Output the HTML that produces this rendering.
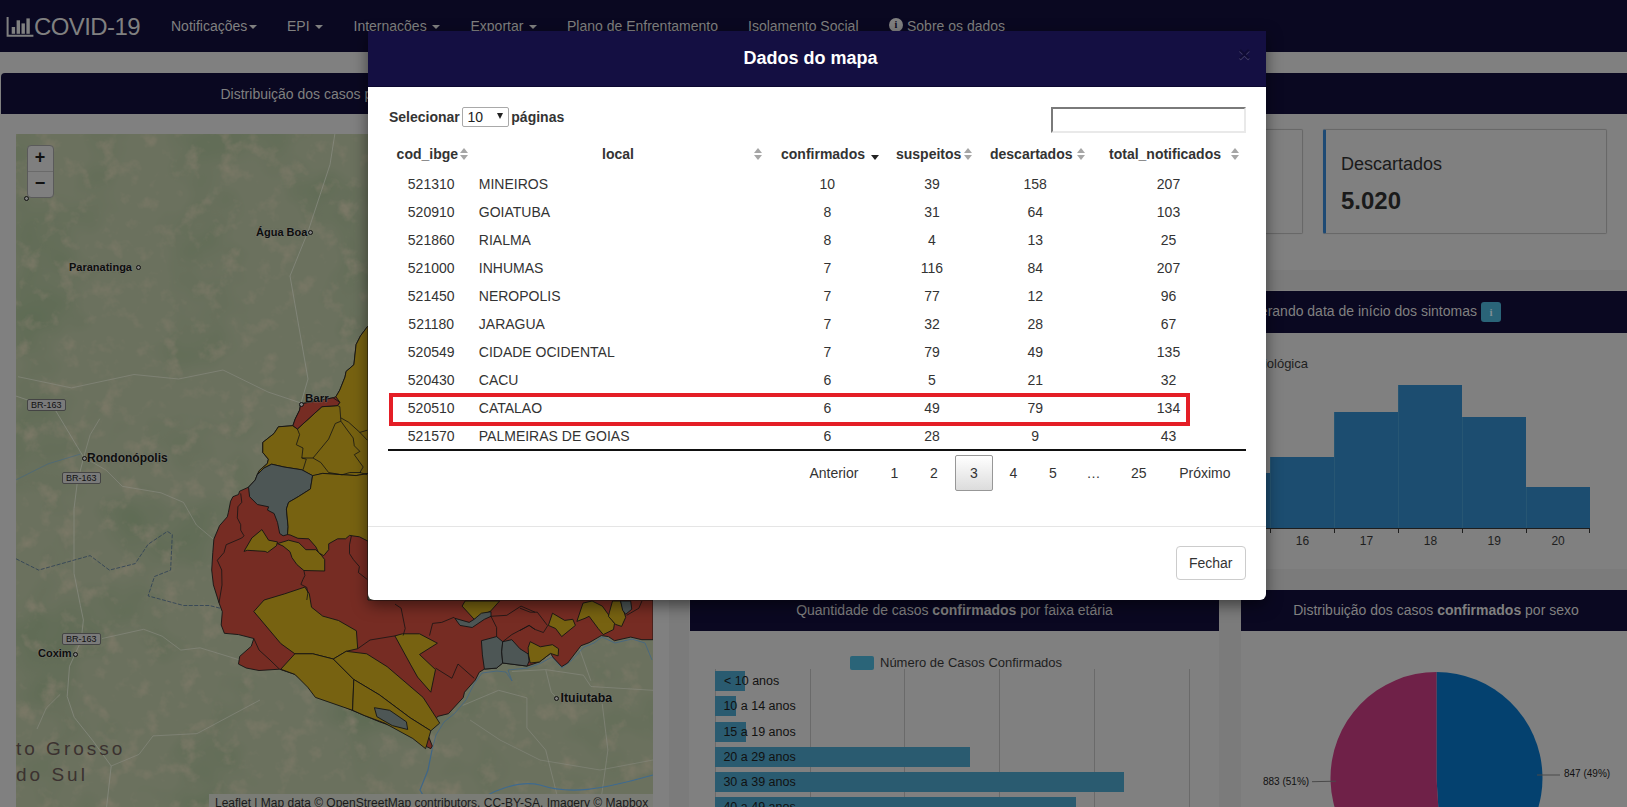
<!DOCTYPE html>
<html><head><meta charset="utf-8"><title>COVID-19</title>
<style>
*{margin:0;padding:0;box-sizing:border-box}
html,body{width:1627px;height:807px;overflow:hidden}
body{position:relative;background:#808080;font-family:"Liberation Sans", sans-serif}
.t{position:absolute;white-space:pre}
.r{position:absolute}
svg{position:absolute;left:0;top:0}
</style></head><body>

<div class="r" style="left:0px;top:0px;width:1627px;height:52px;background:#0a0821;"></div>
<svg width="40" height="40" style="left:0;top:0" viewBox="0 0 40 40">
<path d="M7.6 17 V35.8 H33.4" fill="none" stroke="#808080" stroke-width="2"/>
<rect x="11.7" y="27" width="3.4" height="6.8" fill="#808080"/>
<rect x="16.6" y="20.3" width="3.4" height="13.5" fill="#808080"/>
<rect x="21.5" y="23.4" width="3.4" height="10.4" fill="#808080"/>
<rect x="26.4" y="18.4" width="3.4" height="15.4" fill="#808080"/>
</svg>
<div class="t" style="left:34.0px;top:14.7px;font-size:24px;line-height:24px;font-weight:normal;color:#808080;letter-spacing:-0.6px">COVID-19</div>
<div class="t" style="left:171.0px;top:18.8px;font-size:14px;line-height:14px;font-weight:normal;color:#808080;">Notificações</div>
<div class="r" style="left:249px;top:25px;width:0;height:0;border-left:4px solid transparent;border-right:4px solid transparent;border-top:4px solid #808080"></div>
<div class="t" style="left:287.0px;top:18.8px;font-size:14px;line-height:14px;font-weight:normal;color:#808080;">EPI</div>
<div class="r" style="left:314.5px;top:25px;width:0;height:0;border-left:4px solid transparent;border-right:4px solid transparent;border-top:4px solid #808080"></div>
<div class="t" style="left:353.5px;top:18.8px;font-size:14px;line-height:14px;font-weight:normal;color:#808080;">Internações</div>
<div class="r" style="left:432px;top:25px;width:0;height:0;border-left:4px solid transparent;border-right:4px solid transparent;border-top:4px solid #808080"></div>
<div class="t" style="left:470.5px;top:18.8px;font-size:14px;line-height:14px;font-weight:normal;color:#808080;">Exportar</div>
<div class="r" style="left:529px;top:25px;width:0;height:0;border-left:4px solid transparent;border-right:4px solid transparent;border-top:4px solid #808080"></div>
<div class="t" style="left:567.0px;top:18.8px;font-size:14px;line-height:14px;font-weight:normal;color:#808080;">Plano de Enfrentamento</div>
<div class="t" style="left:748.0px;top:18.8px;font-size:14px;line-height:14px;font-weight:normal;color:#808080;">Isolamento Social</div>
<div class="r" style="left:889px;top:17.5px;width:14px;height:14px;border-radius:50%;background:#808080"></div>
<div class="t" style="left:889px;top:17.5px;width:14px;height:14px;line-height:14px;text-align:center;font-size:10px;font-weight:bold;color:#0a0821;font-family:'Liberation Serif',serif">i</div>
<div class="t" style="left:907.0px;top:18.8px;font-size:14px;line-height:14px;font-weight:normal;color:#808080;">Sobre os dados</div>
<div class="r" style="left:1px;top:73px;width:1626px;height:41px;background:#0a0821;border-radius:4px 0 0 0"></div>
<div class="t" style="left:220.5px;top:86.5px;font-size:14px;line-height:14px;font-weight:normal;color:#808080;">Distribuição dos casos por município segundo classificação do caso</div>
<div class="r" style="left:1266px;top:270px;width:361px;height:20px;background:#7b7b7b;"></div>
<div class="r" style="left:690px;top:291px;width:937px;height:42px;background:#0a0821;"></div>
<div class="r" style="left:690px;top:569px;width:937px;height:21px;background:#7b7b7b;"></div>
<div class="r" style="left:669px;top:134px;width:20px;height:673px;background:#7b7b7b;"></div>
<div class="r" style="left:690px;top:590px;width:529px;height:41px;background:#0a0821;"></div>
<div class="r" style="left:1219px;top:569px;width:22px;height:238px;background:#7b7b7b;"></div>
<div class="r" style="left:1241px;top:590px;width:386px;height:41px;background:#0a0821;"></div>
<div class="r" style="left:1040px;top:129px;width:263px;height:104.5px;border:1px solid #686868;border-left:3px solid #1e4a74;border-radius:2px;box-shadow:0 0 1px rgba(0,0,0,.15)"></div>
<div class="r" style="left:1323px;top:129px;width:284px;height:104.5px;border:1px solid #686868;border-left:3px solid #1e4a74;border-radius:2px;box-shadow:0 0 1px rgba(0,0,0,.15)"></div>
<div class="t" style="left:1341.0px;top:154.8px;font-size:18px;line-height:18px;font-weight:normal;color:#1a1a1a;">Descartados</div>
<div class="t" style="left:1341.0px;top:188.7px;font-size:24px;line-height:24px;font-weight:bold;color:#1a1a1a;">5.020</div>
<div class="t" style="left:677.0px;top:304.1px;width:800px;text-align:right;font-size:14px;line-height:14px;font-weight:normal;color:#808080;">Distribuição dos casos confirmados por semana epidemiológica considerando data de início dos sintomas</div>
<div class="r" style="left:1481px;top:302px;width:20px;height:20px;border-radius:3px;background:#2a6478"></div>
<div class="t" style="left:1481px;top:302px;width:20px;height:20px;line-height:21px;text-align:center;font-size:11px;font-weight:bold;color:#7f8f95;font-family:'Liberation Serif',serif">i</div>
<div class="t" style="left:1008.0px;top:357.0px;width:300px;text-align:right;font-size:13px;line-height:13px;font-weight:normal;color:#1e1e1e;">Semana epidemiológica</div>
<div class="r" style="left:1266px;top:473px;width:4px;height:55px;background:#1c4d70;"></div>
<div class="r" style="left:1270px;top:457px;width:64px;height:71px;background:#1c4d70;border-left:1px solid #275673"></div>
<div class="r" style="left:1334px;top:412px;width:64px;height:116px;background:#1c4d70;border-left:1px solid #275673"></div>
<div class="r" style="left:1398px;top:385px;width:64px;height:143px;background:#1c4d70;border-left:1px solid #275673"></div>
<div class="r" style="left:1462px;top:417px;width:64px;height:111px;background:#1c4d70;border-left:1px solid #275673"></div>
<div class="r" style="left:1526px;top:487px;width:64px;height:41px;background:#1c4d70;border-left:1px solid #275673"></div>
<div class="r" style="left:1266px;top:527.6px;width:324px;height:1.3px;background:#1e1e1e;"></div>
<div class="r" style="left:1270.0px;top:528px;width:1px;height:4.5px;background:#1e1e1e;"></div>
<div class="r" style="left:1333.9px;top:528px;width:1px;height:4.5px;background:#1e1e1e;"></div>
<div class="r" style="left:1398.0px;top:528px;width:1px;height:4.5px;background:#1e1e1e;"></div>
<div class="r" style="left:1461.8px;top:528px;width:1px;height:4.5px;background:#1e1e1e;"></div>
<div class="r" style="left:1525.9px;top:528px;width:1px;height:4.5px;background:#1e1e1e;"></div>
<div class="r" style="left:1589.2px;top:528px;width:1px;height:4.5px;background:#1e1e1e;"></div>
<div class="t" style="left:1282.5px;top:535.3px;width:40px;text-align:center;font-size:12px;line-height:12px;font-weight:normal;color:#1e1e1e;">16</div>
<div class="t" style="left:1346.5px;top:535.3px;width:40px;text-align:center;font-size:12px;line-height:12px;font-weight:normal;color:#1e1e1e;">17</div>
<div class="t" style="left:1410.4px;top:535.3px;width:40px;text-align:center;font-size:12px;line-height:12px;font-weight:normal;color:#1e1e1e;">18</div>
<div class="t" style="left:1474.3px;top:535.3px;width:40px;text-align:center;font-size:12px;line-height:12px;font-weight:normal;color:#1e1e1e;">19</div>
<div class="t" style="left:1538.1px;top:535.3px;width:40px;text-align:center;font-size:12px;line-height:12px;font-weight:normal;color:#1e1e1e;">20</div>
<div class="t" style="left:1266.0px;top:534.3px;font-size:12px;line-height:12px;font-weight:normal;color:#333;"></div>
<div class="t" style="left:690.0px;top:602.9px;width:529px;text-align:center;font-size:14px;line-height:14px;font-weight:normal;color:#808080;">Quantidade de casos <b>confirmados</b> por faixa etária</div>
<div class="r" style="left:849.7px;top:656px;width:24.8px;height:14px;background:#2a6478;border-radius:2px"></div>
<div class="t" style="left:880.0px;top:655.5px;font-size:13px;line-height:13px;font-weight:normal;color:#1e1e1e;">Número de Casos Confirmados</div>
<div class="r" style="left:810px;top:669px;width:1px;height:138px;background:#6a6a6a;"></div>
<div class="r" style="left:904px;top:669px;width:1px;height:138px;background:#6a6a6a;"></div>
<div class="r" style="left:998.5px;top:669px;width:1px;height:138px;background:#6a6a6a;"></div>
<div class="r" style="left:1093.5px;top:669px;width:1px;height:138px;background:#6a6a6a;"></div>
<div class="r" style="left:1188.5px;top:669px;width:1px;height:138px;background:#6a6a6a;"></div>
<div class="r" style="left:715px;top:669px;width:1px;height:138px;background:#6a6a6a;"></div>
<div class="r" style="left:715px;top:671px;width:29.899999999999977px;height:20px;background:#2a5b70;"></div>
<div class="t" style="left:724.0px;top:674.9px;font-size:12.5px;line-height:12.5px;font-weight:normal;color:#111;">&lt; 10 anos</div>
<div class="r" style="left:715px;top:696px;width:20.700000000000045px;height:20px;background:#2a5b70;"></div>
<div class="t" style="left:723.4px;top:699.9px;font-size:12.5px;line-height:12.5px;font-weight:normal;color:#111;">10 a 14 anos</div>
<div class="r" style="left:715px;top:721.8px;width:31px;height:20px;background:#2a5b70;"></div>
<div class="t" style="left:723.4px;top:725.7px;font-size:12.5px;line-height:12.5px;font-weight:normal;color:#111;">15 a 19 anos</div>
<div class="r" style="left:715px;top:746.6px;width:255px;height:20px;background:#2a5b70;"></div>
<div class="t" style="left:723.4px;top:750.5px;font-size:12.5px;line-height:12.5px;font-weight:normal;color:#111;">20 a 29 anos</div>
<div class="r" style="left:715px;top:772px;width:409px;height:20px;background:#2a5b70;"></div>
<div class="t" style="left:723.4px;top:775.9px;font-size:12.5px;line-height:12.5px;font-weight:normal;color:#111;">30 a 39 anos</div>
<div class="r" style="left:715px;top:797px;width:361px;height:20px;background:#2a5b70;"></div>
<div class="t" style="left:723.4px;top:800.9px;font-size:12.5px;line-height:12.5px;font-weight:normal;color:#111;">40 a 49 anos</div>
<div class="t" style="left:1241.0px;top:602.9px;width:390px;text-align:center;font-size:14px;line-height:14px;font-weight:normal;color:#808080;">Distribuição dos casos <b>confirmados</b> por sexo</div>
<svg width="1627" height="807" viewBox="0 0 1627 807">
<path d="M1436.5,778 L1436.50,672.00 A106,106 0 0 1 1443.16,883.79 Z" fill="#04416f"/>
<path d="M1436.5,778 L1443.16,883.79 A106,106 0 1 1 1436.50,672.00 Z" fill="#6f2148"/>
<line x1="1312" y1="781.7" x2="1336" y2="781.2" stroke="#4a4a4a" stroke-width="1"/>
<line x1="1537" y1="775" x2="1560" y2="775" stroke="#4a4a4a" stroke-width="1"/>
</svg>
<div class="t" style="left:1263.0px;top:776.8px;font-size:10px;line-height:10px;font-weight:normal;color:#111;">883 (51%)</div>
<div class="t" style="left:1564.0px;top:768.7px;font-size:10px;line-height:10px;font-weight:normal;color:#111;">847 (49%)</div>
<div class="r" style="left:16px;top:134px;width:637px;height:673px;background:#6b715e;overflow:hidden">
<svg width="637" height="673" viewBox="16 134 637 673" style="left:0;top:0">
<defs>
<filter id="tx" x="0" y="0" width="100%" height="100%" color-interpolation-filters="sRGB">
<feTurbulence type="fractalNoise" baseFrequency="0.05" numOctaves="4" seed="7" result="n"/>
<feComponentTransfer in="n" result="m"><feFuncA type="linear" slope="0" intercept="1"/></feComponentTransfer>
<feColorMatrix in="n" type="matrix" values="0 0 0 0 0.48  0 0 0 0 0.47  0 0 0 0 0.40  3.0 0 0 0 -1.62"/>
</filter>
<filter id="tx2" x="0" y="0" width="100%" height="100%" color-interpolation-filters="sRGB">
<feTurbulence type="fractalNoise" baseFrequency="0.012" numOctaves="3" seed="3"/>
<feColorMatrix type="matrix" values="0 0 0 0 0.37  0 0 0 0 0.42  0 0 0 0 0.33  0 2.6 0 0 -1.3"/>
</filter>
</defs>
<rect x="16" y="134" width="637" height="673" filter="url(#tx2)"/>
<rect x="16" y="134" width="637" height="673" filter="url(#tx)"/>
<polyline points="335,133 330,164.6 308,231.6 290,276 308,379 301,403" fill="none" stroke="#8a8c82" stroke-width="0.7"/>
<polyline points="18,376.7 71.4,387.9 134,374.5 178.6,379 223,370 268,392 301,403" fill="none" stroke="#8a8c82" stroke-width="0.6"/>
<polyline points="16,396.1 54.7,409 74,441.2 83.7,457.3 77.2,483.1 74,508.9 74,573.3 80.4,605.5 83.4,620 81.1,640.9 69.5,666.3 67.2,696.5 74.2,717.3 92.7,740.5 111.2,766 106.6,807" fill="none" stroke="#8a8c82" stroke-width="0.7"/>
<polyline points="83.7,457.3 106.2,470.2 122.3,486.3 161,492.8 183.5,502.4 196.4,525 215.7,541.1" fill="none" stroke="#8a8c82" stroke-width="0.6"/>
<polyline points="83.7,457.3 90.1,434.8 99.8,418.7" fill="none" stroke="#8a8c82" stroke-width="0.6"/>
<polyline points="16,479.9 48.2,463.8 80.4,454.1" fill="none" stroke="#3f6688" stroke-width="0.8" opacity="0.7"/>
<polyline points="16,558.8 38.6,570.1 90.1,555.6 109.4,570.1 135.2,563.6 148.1,544.3 167.4,531.4 172.3,534.6 170.6,570.1 154.5,576.5 148.1,595.9 183.5,605.5 209.3,605.5 222.2,608.7" fill="none" stroke="#2c3f55" stroke-width="0.8" stroke-dasharray="4 1.5"/>
<polyline points="102,638.5 143.7,629.3 162.2,636.2 180.8,650.1 200,647.8 240,660" fill="none" stroke="#8a8c82" stroke-width="0.6"/>
<polyline points="111.2,766 139,754.4 153,735.9 197,733.6 260,700" fill="none" stroke="#8a8c82" stroke-width="0.6"/>
<polyline points="37,729 46.3,708 60.3,694.2" fill="none" stroke="#8a8c82" stroke-width="0.6"/>
<polyline points="511.8,671.5 545.7,669.6 583.4,675.2 590.9,686.5 653,690.3" fill="none" stroke="#8a8c82" stroke-width="0.6"/>
<polyline points="545.7,669.6 551.3,692.2 555.1,696" fill="none" stroke="#8a8c82" stroke-width="0.6"/>
<polyline points="579.6,648.9 590.9,680.9" fill="none" stroke="#8a8c82" stroke-width="0.6"/>
<polyline points="462.8,705.4 498.6,690.3 526.9,697.8 526.9,728 545.7,750 560,807" fill="none" stroke="#8a8c82" stroke-width="0.6"/>
<polyline points="602.2,703.5 607.9,750 600,807" fill="none" stroke="#8a8c82" stroke-width="0.6"/>
<polyline points="470,720 500,740 540,760 600,770 653,760" fill="none" stroke="#8a8c82" stroke-width="0.5"/>
<polyline points="432,750 436,735 444,722 455,713 466,700 474,684 482,673 497,671 506,672 512,681 508,670 528,668 541,663 552,657 562,668 572,660 584,647 594,643 602,637 615,643 632,639 645,643 652,660" fill="none" stroke="#3f6688" stroke-width="1" opacity="0.75"/>
<polyline points="432,750 428,770 420,790 430,807" fill="none" stroke="#3f6688" stroke-width="1.2"/>
<path d="M470 807 C490 790 520 780 540 785 C570 795 600 790 653 775" fill="none" stroke="#3e6a90" stroke-width="1.1"/>
</svg>
</div>
<svg width="1627" height="807" viewBox="0 0 1627 807"><defs><clipPath id="mc"><rect x="16" y="134" width="637" height="673"/></clipPath></defs><g clip-path="url(#mc)"><polygon points="367.3,326.8 360.6,335.7 356.1,344.6 353.9,364.7 346.1,371.4 345.0,377.0 339.8,390.0 335.9,396.7 333.1,397.8 300.7,403.9 299.6,410.1 295.2,419.0 292.9,425.7 278.4,426.8 274.0,433.5 262.8,442.4 262.8,452.5 268.4,459.2 267.3,463.6 259.5,470.3 257.2,474.8 255.2,480.0 248.5,487.2 239.6,491.2 238.5,494.5 232.9,496.7 230.6,501.2 228.4,512.3 227.3,516.8 219.5,525.7 213.9,539.1 212.8,552.5 211.7,570.0 213.4,584.9 219.0,602.8 222.3,611.7 221.2,625.0 224.4,633.3 238.5,634.6 253.8,638.5 251.3,646.2 239.7,656.4 238.5,664.1 246.2,668.0 259.0,670.5 279.5,669.2 294.9,674.4 310.3,687.2 323.1,697.4 346.2,707.7 364.1,715.4 379.5,721.8 405.1,730.8 420.5,743.6 430.8,748.7 432.3,746.0 426.9,732.5 437.6,716.4 448.4,713.7 463.2,697.6 464.5,692.2 475.3,680.0 479.3,672.2 484.4,669.1 496.6,668.1 502.7,663.0 527.1,666.1 539.3,662.0 550.5,653.4 553.5,657.9 561.7,666.6 567.7,663.0 581.0,645.7 589.1,642.7 601.3,635.6 608.4,636.6 614.5,640.7 630.7,637.1 641.9,639.7 653.0,639.7 653.0,600.0 368.0,600.0" fill="#762c23" stroke="#141414" stroke-width="0.9" stroke-linejoin="round"/><polygon points="367.3,326.8 360.6,335.7 356.1,344.6 353.9,364.7 346.1,371.4 345.0,377.0 339.8,390.0 335.9,396.7 339.8,402.3 337.5,405.6 321.9,406.7 297.4,429.0 292.9,425.7 278.4,426.8 274.0,433.5 262.8,442.4 262.8,452.5 268.4,459.2 267.3,463.6 259.5,470.3 257.2,474.8 263.9,468.1 271.7,464.2 284.0,467.0 301.8,469.8 313.0,476.0 322.7,473.4 356.1,475.6 368.0,473.4 368.0,326.0" fill="#776211" stroke="#141414" stroke-width="0.9" stroke-linejoin="round"/><polygon points="300.7,403.9 333.1,397.8 339.8,402.3 337.5,405.6 321.9,406.7 297.4,429.0 292.9,425.7 295.2,419.0 299.6,410.1" fill="#762c23" stroke="#141414" stroke-width="0.9" stroke-linejoin="round"/><polygon points="255.2,480.0 257.2,474.8 263.9,468.1 271.7,464.2 284.0,467.0 301.8,469.8 312.6,475.6 310.4,489.0 298.1,496.8 288.6,502.3 286.4,509.0 288.1,526.8 287.5,534.6 283.1,535.8 279.7,533.5 277.5,522.4 274.1,513.5 267.5,510.1 268.6,506.8 257.4,504.5 249.6,496.7 248.5,487.2" fill="#4d5655" stroke="#141414" stroke-width="0.9" stroke-linejoin="round"/><polygon points="312.6,475.6 322.7,473.4 356.1,475.6 368.0,473.4 368.0,540.8 367.3,540.8 359.4,536.8 349.5,535.4 345.5,538.8 337.6,538.8 328.7,543.8 328.7,549.7 323.7,555.7 318.7,552.7 315.8,546.8 308.8,538.8 297.9,538.3 290.0,534.9 287.5,534.6 288.1,526.8 286.4,509.0 288.6,502.3 298.1,496.8 310.4,489.0" fill="#776211" stroke="#141414" stroke-width="0.9" stroke-linejoin="round"/><polygon points="244.0,551.4 251.8,538.0 261.9,529.6 268.6,540.2 277.5,541.9 276.4,545.8 267.5,552.5 265.2,551.4 247.4,550.3" fill="#776211" stroke="#141414" stroke-width="0.9" stroke-linejoin="round"/><polygon points="277.5,543.6 288.6,540.2 298.9,542.8 305.9,549.7 315.8,549.7 318.7,552.7 321.7,555.7 324.7,559.6 324.7,571.0 303.9,570.5 296.9,564.6 292.0,557.7 290.0,551.7 283.0,546.0" fill="#776211" stroke="#141414" stroke-width="0.9" stroke-linejoin="round"/><polygon points="253.8,611.5 264.1,600.0 284.8,593.8 304.8,587.1 309.3,593.8 311.5,607.2 322.7,616.1 338.5,620.5 356.4,630.8 357.7,648.7 346.2,651.3 333.3,659.0 312.8,653.8 294.9,653.8 280.8,643.6" fill="#776211" stroke="#141414" stroke-width="0.9" stroke-linejoin="round"/><polygon points="280.8,669.2 294.9,653.8 312.8,653.8 333.3,659.0 353.8,679.5 352.6,710.3 315.4,697.4 307.7,687.2 294.9,674.4" fill="#776211" stroke="#141414" stroke-width="0.9" stroke-linejoin="round"/><polygon points="333.3,659.0 346.2,651.3 366.7,653.8 387.2,666.7 423.1,697.4 439.7,723.1 430.8,730.8 410.3,717.9 379.5,694.9 353.8,679.5" fill="#776211" stroke="#141414" stroke-width="0.9" stroke-linejoin="round"/><polygon points="353.8,679.5 379.5,694.9 410.3,717.9 430.8,730.8 425.6,748.7 412.8,738.5 384.6,723.1 364.1,715.4 352.6,710.3" fill="#776211" stroke="#141414" stroke-width="0.9" stroke-linejoin="round"/><polygon points="528.1,647.8 530.2,641.7 540.3,646.8 552.5,644.7 558.6,648.8 558.1,655.9 550.5,653.4 539.3,662.0 530.2,663.0 528.6,655.0" fill="#776211" stroke="#141414" stroke-width="0.9" stroke-linejoin="round"/><polygon points="548.4,625.4 552.5,613.2 564.7,620.4 572.8,619.3 575.4,625.4 561.7,636.6 555.6,628.5" fill="#776211" stroke="#141414" stroke-width="0.9" stroke-linejoin="round"/><polygon points="576.9,621.4 583.0,603.1 592.1,601.0 602.3,606.1 607.4,613.2 614.5,623.4 613.5,629.5 603.3,634.6 598.2,628.5 589.1,616.3 585.0,618.3" fill="#776211" stroke="#141414" stroke-width="0.9" stroke-linejoin="round"/><polygon points="609.4,612.2 612.5,601.0 620.6,601.0 625.7,617.3 621.6,626.4 615.5,624.4 608.4,616.3" fill="#776211" stroke="#141414" stroke-width="0.9" stroke-linejoin="round"/><polygon points="462.1,606.1 465.1,601.0 499.6,601.0 490.5,611.2 474.2,619.3" fill="#776211" stroke="#141414" stroke-width="0.9" stroke-linejoin="round"/><polygon points="394.9,635.9 402.5,633.8 419.5,633.8 437.4,643.2 419.5,654.5 435.5,669.6 430.8,692.2 417.6,677.1 410.3,664.1" fill="#776211" stroke="#141414" stroke-width="0.9" stroke-linejoin="round"/><polygon points="374.4,707.7 389.7,710.3 406.4,721.8 407.7,729.5 392.3,725.6 376.9,716.7" fill="#4d5655" stroke="#141414" stroke-width="0.9" stroke-linejoin="round"/><polygon points="481.4,640.7 496.6,636.6 502.7,641.7 501.7,651.8 502.7,663.0 496.6,668.1 484.4,669.1 482.4,654.9" fill="#4d5655" stroke="#141414" stroke-width="0.9" stroke-linejoin="round"/><polygon points="502.7,641.7 511.8,639.7 520.0,648.8 528.1,653.9 529.1,661.0 527.1,666.1 502.7,663.0 501.7,651.8" fill="#4d5655" stroke="#141414" stroke-width="0.9" stroke-linejoin="round"/><polygon points="620.6,601.0 630.7,601.0 631.8,609.2 625.7,614.3 622.6,610.2" fill="#4d5655" stroke="#141414" stroke-width="0.9" stroke-linejoin="round"/><polygon points="454.9,618.3 460.0,625.4 472.2,627.5 484.4,619.3 491.0,616.3 491.0,611.7 481.4,613.2 474.2,619.3 469.2,622.4" fill="#4d5655" stroke="#141414" stroke-width="0.9" stroke-linejoin="round"/><polyline points="240.7,493.4 241.8,502.3 237.9,506.8 237.3,517.9 240.7,524.6 240.7,530.2 244.0,535.8 241.8,538.0 226.2,544.7 224.0,552.5 217.3,560.3 221.7,570.0 222.0,585.0 219.0,602.8" fill="none" stroke="#141414" stroke-width="0.8"/><polyline points="351.4,535.9 349.5,544.8 349.5,553.7 353.4,559.6 359.4,566.6 358.4,572.5 367.3,579.5" fill="none" stroke="#141414" stroke-width="0.8"/><polyline points="303.9,570.5 304.9,575.5 302.9,579.5 300.9,584.4 306.8,587.4 307.8,593.3 306.8,600.0" fill="none" stroke="#141414" stroke-width="0.8"/><polyline points="357.7,648.7 370.0,640.0 394.9,635.9" fill="none" stroke="#141414" stroke-width="0.8"/><polyline points="395.0,604.1 401.1,608.2 405.2,628.5 403.1,635.6" fill="none" stroke="#141414" stroke-width="0.8"/><polyline points="429.5,635.6 432.6,623.4 441.7,622.4 453.9,617.3 454.9,618.3" fill="none" stroke="#141414" stroke-width="0.8"/><polyline points="491.0,616.3 496.6,627.5 496.6,636.6" fill="none" stroke="#141414" stroke-width="0.8"/><polyline points="491.0,616.3 506.8,615.3 521.0,606.1 535.0,612.2" fill="none" stroke="#141414" stroke-width="0.8"/><polyline points="502.7,641.7 511.8,634.6 529.1,625.4 535.0,629.5" fill="none" stroke="#141414" stroke-width="0.8"/><polyline points="435.6,668.1 451.9,678.3 458.0,664.0 474.2,678.3" fill="none" stroke="#141414" stroke-width="0.8"/><polyline points="520.0,608.2 530.2,612.2 537.3,612.2 547.4,625.4" fill="none" stroke="#141414" stroke-width="0.8"/><polyline points="520.0,630.5 529.1,625.4 535.2,629.5 543.4,632.5 547.9,625.4" fill="none" stroke="#141414" stroke-width="0.8"/><polyline points="641.9,601.0 638.9,608.2 626.7,615.3" fill="none" stroke="#141414" stroke-width="0.8"/><polyline points="279.5,669.2 270.0,660.0 259.0,650.0 253.8,638.5" fill="none" stroke="#141414" stroke-width="0.8"/><polyline points="297.4,429.0 299.6,434.6 296.3,444.7 303.0,448.0 301.8,458.0 313.0,458.0" fill="none" stroke="#141414" stroke-width="0.8"/><polyline points="301.8,458.0 306.3,459.2 303.0,469.8" fill="none" stroke="#141414" stroke-width="0.8"/><polyline points="313.0,458.0 328.6,439.1 335.3,423.5 340.9,421.2 339.8,406.7 337.5,405.6" fill="none" stroke="#141414" stroke-width="0.8"/><polyline points="340.9,417.9 348.7,422.3 359.9,432.4 367.3,430.2" fill="none" stroke="#141414" stroke-width="0.8"/><polyline points="340.9,421.2 346.5,429.0 353.2,438.0 354.3,445.8 359.9,451.4 354.3,454.7 363.2,467.0 359.9,472.5 367.3,474.8" fill="none" stroke="#141414" stroke-width="0.8"/><polyline points="313.0,458.0 320.8,462.5 328.6,472.5 342.0,474.8 349.8,472.5 361.0,472.5" fill="none" stroke="#141414" stroke-width="0.8"/><polyline points="359.9,432.4 367.3,440.2" fill="none" stroke="#141414" stroke-width="0.8"/></g></svg>
<div class="t" style="left:256px;top:226.7px;font-size:11px;line-height:11px;font-weight:bold;color:#0d0d0d;text-shadow:0 0 1.5px #7b7d74,0 0 1.5px #7b7d74">Água Boa</div>
<div class="r" style="left:308px;top:230px;width:5px;height:5px;border-radius:50%;border:1px solid #111;background:#808080"></div>
<div class="t" style="left:69px;top:261.7px;font-size:11px;line-height:11px;font-weight:bold;color:#0d0d0d;text-shadow:0 0 1.5px #7b7d74,0 0 1.5px #7b7d74">Paranatinga</div>
<div class="r" style="left:136px;top:265px;width:5px;height:5px;border-radius:50%;border:1px solid #111;background:#808080"></div>
<div class="t" style="left:87px;top:451.8px;font-size:12px;line-height:12px;font-weight:bold;color:#0d0d0d;text-shadow:0 0 1.5px #7b7d74,0 0 1.5px #7b7d74">Rondonópolis</div>
<div class="r" style="left:82px;top:456px;width:5px;height:5px;border-radius:50%;border:1px solid #111;background:#808080"></div>
<div class="t" style="left:38px;top:647.7px;font-size:11px;line-height:11px;font-weight:bold;color:#0d0d0d;text-shadow:0 0 1.5px #7b7d74,0 0 1.5px #7b7d74">Coxim</div>
<div class="r" style="left:73px;top:652px;width:5px;height:5px;border-radius:50%;border:1px solid #111;background:#808080"></div>
<div class="t" style="left:560.5px;top:692.0px;font-size:12.4px;line-height:12.4px;font-weight:bold;color:#0d0d0d;text-shadow:0 0 1.5px #7b7d74,0 0 1.5px #7b7d74">Ituiutaba</div>
<div class="r" style="left:554px;top:696px;width:5px;height:5px;border-radius:50%;border:1px solid #111;background:#808080"></div>
<div class="t" style="left:305px;top:392.8px;font-size:11.5px;line-height:11.5px;font-weight:bold;color:#0d0d0d;text-shadow:0 0 1.5px #7b7d74,0 0 1.5px #7b7d74">Barr</div>
<div class="r" style="left:298.7px;top:401.9px;width:5px;height:5px;border-radius:50%;border:1px solid #111;background:#808080"></div>
<div class="t" style="left:27px;top:399px;height:12px;padding:0 3px;font-size:9px;line-height:11px;color:#111;background:#7a7a7a;border:1px solid #444;border-radius:2px">BR-163</div>
<div class="t" style="left:62px;top:472px;height:12px;padding:0 3px;font-size:9px;line-height:11px;color:#111;background:#7a7a7a;border:1px solid #444;border-radius:2px">BR-163</div>
<div class="t" style="left:62px;top:633px;height:12px;padding:0 3px;font-size:9px;line-height:11px;color:#111;background:#7a7a7a;border:1px solid #444;border-radius:2px">BR-163</div>
<div class="t" style="left:16px;top:739px;font-size:19px;line-height:20px;letter-spacing:3px;color:#3b3230">to Grosso</div>
<div class="t" style="left:16px;top:764.5px;font-size:19px;line-height:20px;letter-spacing:3px;color:#3b3230">do Sul</div>
<div class="r" style="left:24px;top:196px;width:5px;height:5px;border-radius:50%;border:1px solid #111;background:#808080"></div>
<div class="t" style="left:209px;top:794px;width:444px;height:13px;background:#7a7c76;font-size:12px;line-height:18px;color:#1a1a1a;padding-left:6px">Leaflet | Map data © OpenStreetMap contributors, CC-BY-SA, Imagery © Mapbox</div>
<div class="r" style="left:26.5px;top:144.5px;width:27px;height:53px;border:1px solid #5a5a5a;border-radius:4px;background:#7f7f7f"></div>
<div class="r" style="left:27.5px;top:170.5px;width:25px;height:1px;background:#6a6a6a;"></div>
<div class="t" style="left:26.5px;top:147px;width:27px;text-align:center;font-size:18px;line-height:20px;font-weight:bold;color:#111">+</div>
<div class="t" style="left:26.5px;top:173px;width:27px;text-align:center;font-size:18px;line-height:20px;font-weight:bold;color:#111">−</div>
<div class="r" style="left:368px;top:31px;width:898px;height:569px;background:#fff;border-radius:0 0 6px 6px;box-shadow:0 5px 15px rgba(0,0,0,.5)"></div>
<div class="r" style="left:368px;top:31px;width:898px;height:56px;background:#140f42;border-bottom:1px solid #0c0830"></div>
<div class="t" style="left:610.5px;top:48.5px;width:400px;text-align:center;font-size:18px;line-height:18px;font-weight:bold;color:#fff;">Dados do mapa</div>
<div class="t" style="left:1236px;top:43px;width:17px;font-size:21px;line-height:21px;font-weight:bold;color:#000;opacity:.2;text-shadow:0 1px 0 #fff;text-align:center">×</div>
<div class="t" style="left:389.0px;top:109.9px;font-size:14px;line-height:14px;font-weight:bold;color:#333;">Selecionar</div>
<div class="r" style="left:462.4px;top:107.3px;width:47px;height:19.5px;border:1px solid #a9a9a9;border-radius:2px;background:#fff"></div>
<div class="t" style="left:467.5px;top:110.1px;font-size:14px;line-height:14px;font-weight:normal;color:#222;">10</div>
<div class="r" style="left:497px;top:113px;width:0;height:0;border-left:3.5px solid transparent;border-right:3.5px solid transparent;border-top:6px solid #222"></div>
<div class="t" style="left:511.3px;top:109.9px;font-size:14px;line-height:14px;font-weight:bold;color:#333;">páginas</div>
<div class="r" style="left:1051px;top:107px;width:195px;height:25.6px;border:2px solid #e9e9e9;border-top-color:#7a7a7a;border-left-color:#7a7a7a;background:#fff"></div>
<div class="t" style="left:396.6px;top:147.1px;font-size:14px;line-height:14px;font-weight:bold;color:#333;">cod_ibge</div>
<div class="r" style="left:460px;top:148px;width:0;height:0;border-left:4.6px solid transparent;border-right:4.6px solid transparent;border-bottom:5.2px solid #a6a6a6"></div>
<div class="r" style="left:460px;top:154.5px;width:0;height:0;border-left:4.6px solid transparent;border-right:4.6px solid transparent;border-top:5.2px solid #a6a6a6"></div>
<div class="t" style="left:602.0px;top:147.1px;font-size:14px;line-height:14px;font-weight:bold;color:#333;">local</div>
<div class="r" style="left:754px;top:148px;width:0;height:0;border-left:4.6px solid transparent;border-right:4.6px solid transparent;border-bottom:5.2px solid #a6a6a6"></div>
<div class="r" style="left:754px;top:154.5px;width:0;height:0;border-left:4.6px solid transparent;border-right:4.6px solid transparent;border-top:5.2px solid #a6a6a6"></div>
<div class="t" style="left:781.0px;top:147.1px;font-size:14px;line-height:14px;font-weight:bold;color:#333;">confirmados</div>
<div class="r" style="left:871px;top:155px;width:0;height:0;border-left:4.5px solid transparent;border-right:4.5px solid transparent;border-top:5px solid #222"></div>
<div class="t" style="left:896.0px;top:147.1px;font-size:14px;line-height:14px;font-weight:bold;color:#333;">suspeitos</div>
<div class="r" style="left:964px;top:148px;width:0;height:0;border-left:4.6px solid transparent;border-right:4.6px solid transparent;border-bottom:5.2px solid #a6a6a6"></div>
<div class="r" style="left:964px;top:154.5px;width:0;height:0;border-left:4.6px solid transparent;border-right:4.6px solid transparent;border-top:5.2px solid #a6a6a6"></div>
<div class="t" style="left:990.0px;top:147.1px;font-size:14px;line-height:14px;font-weight:bold;color:#333;">descartados</div>
<div class="r" style="left:1077px;top:148px;width:0;height:0;border-left:4.6px solid transparent;border-right:4.6px solid transparent;border-bottom:5.2px solid #a6a6a6"></div>
<div class="r" style="left:1077px;top:154.5px;width:0;height:0;border-left:4.6px solid transparent;border-right:4.6px solid transparent;border-top:5.2px solid #a6a6a6"></div>
<div class="t" style="left:1109.0px;top:147.1px;font-size:14px;line-height:14px;font-weight:bold;color:#333;">total_notificados</div>
<div class="r" style="left:1231px;top:148px;width:0;height:0;border-left:4.6px solid transparent;border-right:4.6px solid transparent;border-bottom:5.2px solid #a6a6a6"></div>
<div class="r" style="left:1231px;top:154.5px;width:0;height:0;border-left:4.6px solid transparent;border-right:4.6px solid transparent;border-top:5.2px solid #a6a6a6"></div>
<div class="t" style="left:391.2px;top:177.1px;width:80px;text-align:center;font-size:14px;line-height:14px;font-weight:normal;color:#333;">521310</div>
<div class="t" style="left:478.8px;top:177.1px;font-size:14px;line-height:14px;font-weight:normal;color:#333;">MINEIROS</div>
<div class="t" style="left:797.3px;top:177.1px;width:60px;text-align:center;font-size:14px;line-height:14px;font-weight:normal;color:#333;">10</div>
<div class="t" style="left:902.0px;top:177.1px;width:60px;text-align:center;font-size:14px;line-height:14px;font-weight:normal;color:#333;">39</div>
<div class="t" style="left:1005.2px;top:177.1px;width:60px;text-align:center;font-size:14px;line-height:14px;font-weight:normal;color:#333;">158</div>
<div class="t" style="left:1138.5px;top:177.1px;width:60px;text-align:center;font-size:14px;line-height:14px;font-weight:normal;color:#333;">207</div>
<div class="t" style="left:391.2px;top:205.1px;width:80px;text-align:center;font-size:14px;line-height:14px;font-weight:normal;color:#333;">520910</div>
<div class="t" style="left:478.8px;top:205.1px;font-size:14px;line-height:14px;font-weight:normal;color:#333;">GOIATUBA</div>
<div class="t" style="left:797.3px;top:205.1px;width:60px;text-align:center;font-size:14px;line-height:14px;font-weight:normal;color:#333;">8</div>
<div class="t" style="left:902.0px;top:205.1px;width:60px;text-align:center;font-size:14px;line-height:14px;font-weight:normal;color:#333;">31</div>
<div class="t" style="left:1005.2px;top:205.1px;width:60px;text-align:center;font-size:14px;line-height:14px;font-weight:normal;color:#333;">64</div>
<div class="t" style="left:1138.5px;top:205.1px;width:60px;text-align:center;font-size:14px;line-height:14px;font-weight:normal;color:#333;">103</div>
<div class="t" style="left:391.2px;top:233.1px;width:80px;text-align:center;font-size:14px;line-height:14px;font-weight:normal;color:#333;">521860</div>
<div class="t" style="left:478.8px;top:233.1px;font-size:14px;line-height:14px;font-weight:normal;color:#333;">RIALMA</div>
<div class="t" style="left:797.3px;top:233.1px;width:60px;text-align:center;font-size:14px;line-height:14px;font-weight:normal;color:#333;">8</div>
<div class="t" style="left:902.0px;top:233.1px;width:60px;text-align:center;font-size:14px;line-height:14px;font-weight:normal;color:#333;">4</div>
<div class="t" style="left:1005.2px;top:233.1px;width:60px;text-align:center;font-size:14px;line-height:14px;font-weight:normal;color:#333;">13</div>
<div class="t" style="left:1138.5px;top:233.1px;width:60px;text-align:center;font-size:14px;line-height:14px;font-weight:normal;color:#333;">25</div>
<div class="t" style="left:391.2px;top:261.1px;width:80px;text-align:center;font-size:14px;line-height:14px;font-weight:normal;color:#333;">521000</div>
<div class="t" style="left:478.8px;top:261.1px;font-size:14px;line-height:14px;font-weight:normal;color:#333;">INHUMAS</div>
<div class="t" style="left:797.3px;top:261.1px;width:60px;text-align:center;font-size:14px;line-height:14px;font-weight:normal;color:#333;">7</div>
<div class="t" style="left:902.0px;top:261.1px;width:60px;text-align:center;font-size:14px;line-height:14px;font-weight:normal;color:#333;">116</div>
<div class="t" style="left:1005.2px;top:261.1px;width:60px;text-align:center;font-size:14px;line-height:14px;font-weight:normal;color:#333;">84</div>
<div class="t" style="left:1138.5px;top:261.1px;width:60px;text-align:center;font-size:14px;line-height:14px;font-weight:normal;color:#333;">207</div>
<div class="t" style="left:391.2px;top:289.1px;width:80px;text-align:center;font-size:14px;line-height:14px;font-weight:normal;color:#333;">521450</div>
<div class="t" style="left:478.8px;top:289.1px;font-size:14px;line-height:14px;font-weight:normal;color:#333;">NEROPOLIS</div>
<div class="t" style="left:797.3px;top:289.1px;width:60px;text-align:center;font-size:14px;line-height:14px;font-weight:normal;color:#333;">7</div>
<div class="t" style="left:902.0px;top:289.1px;width:60px;text-align:center;font-size:14px;line-height:14px;font-weight:normal;color:#333;">77</div>
<div class="t" style="left:1005.2px;top:289.1px;width:60px;text-align:center;font-size:14px;line-height:14px;font-weight:normal;color:#333;">12</div>
<div class="t" style="left:1138.5px;top:289.1px;width:60px;text-align:center;font-size:14px;line-height:14px;font-weight:normal;color:#333;">96</div>
<div class="t" style="left:391.2px;top:317.1px;width:80px;text-align:center;font-size:14px;line-height:14px;font-weight:normal;color:#333;">521180</div>
<div class="t" style="left:478.8px;top:317.1px;font-size:14px;line-height:14px;font-weight:normal;color:#333;">JARAGUA</div>
<div class="t" style="left:797.3px;top:317.1px;width:60px;text-align:center;font-size:14px;line-height:14px;font-weight:normal;color:#333;">7</div>
<div class="t" style="left:902.0px;top:317.1px;width:60px;text-align:center;font-size:14px;line-height:14px;font-weight:normal;color:#333;">32</div>
<div class="t" style="left:1005.2px;top:317.1px;width:60px;text-align:center;font-size:14px;line-height:14px;font-weight:normal;color:#333;">28</div>
<div class="t" style="left:1138.5px;top:317.1px;width:60px;text-align:center;font-size:14px;line-height:14px;font-weight:normal;color:#333;">67</div>
<div class="t" style="left:391.2px;top:345.1px;width:80px;text-align:center;font-size:14px;line-height:14px;font-weight:normal;color:#333;">520549</div>
<div class="t" style="left:478.8px;top:345.1px;font-size:14px;line-height:14px;font-weight:normal;color:#333;">CIDADE OCIDENTAL</div>
<div class="t" style="left:797.3px;top:345.1px;width:60px;text-align:center;font-size:14px;line-height:14px;font-weight:normal;color:#333;">7</div>
<div class="t" style="left:902.0px;top:345.1px;width:60px;text-align:center;font-size:14px;line-height:14px;font-weight:normal;color:#333;">79</div>
<div class="t" style="left:1005.2px;top:345.1px;width:60px;text-align:center;font-size:14px;line-height:14px;font-weight:normal;color:#333;">49</div>
<div class="t" style="left:1138.5px;top:345.1px;width:60px;text-align:center;font-size:14px;line-height:14px;font-weight:normal;color:#333;">135</div>
<div class="t" style="left:391.2px;top:373.1px;width:80px;text-align:center;font-size:14px;line-height:14px;font-weight:normal;color:#333;">520430</div>
<div class="t" style="left:478.8px;top:373.1px;font-size:14px;line-height:14px;font-weight:normal;color:#333;">CACU</div>
<div class="t" style="left:797.3px;top:373.1px;width:60px;text-align:center;font-size:14px;line-height:14px;font-weight:normal;color:#333;">6</div>
<div class="t" style="left:902.0px;top:373.1px;width:60px;text-align:center;font-size:14px;line-height:14px;font-weight:normal;color:#333;">5</div>
<div class="t" style="left:1005.2px;top:373.1px;width:60px;text-align:center;font-size:14px;line-height:14px;font-weight:normal;color:#333;">21</div>
<div class="t" style="left:1138.5px;top:373.1px;width:60px;text-align:center;font-size:14px;line-height:14px;font-weight:normal;color:#333;">32</div>
<div class="t" style="left:391.2px;top:401.1px;width:80px;text-align:center;font-size:14px;line-height:14px;font-weight:normal;color:#333;">520510</div>
<div class="t" style="left:478.8px;top:401.1px;font-size:14px;line-height:14px;font-weight:normal;color:#333;">CATALAO</div>
<div class="t" style="left:797.3px;top:401.1px;width:60px;text-align:center;font-size:14px;line-height:14px;font-weight:normal;color:#333;">6</div>
<div class="t" style="left:902.0px;top:401.1px;width:60px;text-align:center;font-size:14px;line-height:14px;font-weight:normal;color:#333;">49</div>
<div class="t" style="left:1005.2px;top:401.1px;width:60px;text-align:center;font-size:14px;line-height:14px;font-weight:normal;color:#333;">79</div>
<div class="t" style="left:1138.5px;top:401.1px;width:60px;text-align:center;font-size:14px;line-height:14px;font-weight:normal;color:#333;">134</div>
<div class="t" style="left:391.2px;top:429.1px;width:80px;text-align:center;font-size:14px;line-height:14px;font-weight:normal;color:#333;">521570</div>
<div class="t" style="left:478.8px;top:429.1px;font-size:14px;line-height:14px;font-weight:normal;color:#333;">PALMEIRAS DE GOIAS</div>
<div class="t" style="left:797.3px;top:429.1px;width:60px;text-align:center;font-size:14px;line-height:14px;font-weight:normal;color:#333;">6</div>
<div class="t" style="left:902.0px;top:429.1px;width:60px;text-align:center;font-size:14px;line-height:14px;font-weight:normal;color:#333;">28</div>
<div class="t" style="left:1005.2px;top:429.1px;width:60px;text-align:center;font-size:14px;line-height:14px;font-weight:normal;color:#333;">9</div>
<div class="t" style="left:1138.5px;top:429.1px;width:60px;text-align:center;font-size:14px;line-height:14px;font-weight:normal;color:#333;">43</div>
<div class="r" style="left:388px;top:449.3px;width:858px;height:1.5px;background:#111;"></div>
<div class="r" style="left:388.8px;top:392.8px;width:800.9px;height:32.8px;border:4.8px solid #e41e26"></div>
<div class="t" style="left:793.9px;top:466.1px;width:80px;text-align:center;font-size:14px;line-height:14px;font-weight:normal;color:#333;">Anterior</div>
<div class="t" style="left:879.5px;top:466.1px;width:30px;text-align:center;font-size:14px;line-height:14px;font-weight:normal;color:#333;">1</div>
<div class="t" style="left:919.0px;top:466.1px;width:30px;text-align:center;font-size:14px;line-height:14px;font-weight:normal;color:#333;">2</div>
<div class="t" style="left:998.5px;top:466.1px;width:30px;text-align:center;font-size:14px;line-height:14px;font-weight:normal;color:#333;">4</div>
<div class="t" style="left:1038.0px;top:466.1px;width:30px;text-align:center;font-size:14px;line-height:14px;font-weight:normal;color:#333;">5</div>
<div class="t" style="left:1078.5px;top:466.1px;width:30px;text-align:center;font-size:14px;line-height:14px;font-weight:normal;color:#333;">…</div>
<div class="t" style="left:1123.8px;top:466.1px;width:30px;text-align:center;font-size:14px;line-height:14px;font-weight:normal;color:#333;">25</div>
<div class="t" style="left:1164.9px;top:466.1px;width:80px;text-align:center;font-size:14px;line-height:14px;font-weight:normal;color:#333;">Próximo</div>
<div class="r" style="left:955.2px;top:455.2px;width:37.5px;height:35.4px;border:1px solid #979797;border-radius:2px;background:linear-gradient(to bottom,#fff 0%,#dcdcdc 100%)"></div>
<div class="t" style="left:959.0px;top:466.1px;width:30px;text-align:center;font-size:14px;line-height:14px;font-weight:normal;color:#333;">3</div>
<div class="r" style="left:368px;top:526px;width:898px;height:1px;background:#e5e5e5;"></div>
<div class="r" style="left:1176px;top:546px;width:69.5px;height:34px;border:1px solid #ccc;border-radius:4px;background:#fff"></div>
<div class="t" style="left:1176.2px;top:555.6px;width:69px;text-align:center;font-size:14px;line-height:14px;font-weight:normal;color:#333;">Fechar</div>
</body></html>
